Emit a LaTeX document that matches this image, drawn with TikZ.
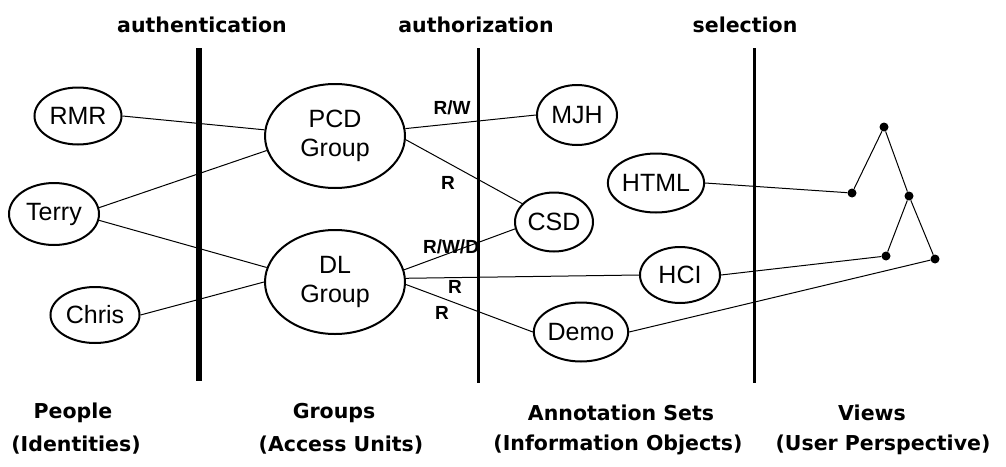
\documentclass[tikz,border=0pt]{standalone}
\usepackage{fontspec}
\setmainfont{Liberation Sans}
\newfontfamily\headfont{DejaVu Sans}
\usepackage{tikz}
\usetikzlibrary{shapes.geometric}

\begin{document}
\begin{tikzpicture}[x=1pt,y=-1pt,
ent/.style={draw,ellipse,line width=2pt,inner sep=0pt,font=\fontsize{25}{27}\selectfont},
small/.style={ent,minimum width=80pt,minimum height=58pt},
big/.style={ent,minimum width=140pt,minimum height=104pt,align=center,font=\fontsize{25}{29}\selectfont},
dot/.style={circle,fill,inner sep=0pt,minimum size=9pt},
link/.style={line width=1pt},
wall/.style={line width=#1},
lbl/.style={inner sep=0pt,font=\bfseries\fontsize{19}{20}\selectfont},
head/.style={inner sep=0pt,font=\headfont\bfseries\fontsize{20.5}{22}\selectfont}]
\useasboundingbox (0,0) rectangle (1006,466);
% barriers
\coordinate (b1t) at (199,48);
\coordinate (b1b) at (199,381);
\coordinate (b2t) at (478,48);
\coordinate (b2b) at (478,383);
\coordinate (b3t) at (754,48);
\coordinate (b3b) at (754,383);
\draw[wall=6pt] (b1t) -- (b1b);
\draw[wall=3pt] (b2t) -- (b2b);
\draw[wall=3pt] (b3t) -- (b3b);
\node[head] (auth) at (202,25) {authentication};
\node[head] (authz) at (476,25) {authorization};
\node[head] (sel) at (745,25) {selection};
% people
\node[small,minimum width=87pt,minimum height=57pt] (rmr) at (78,116) {RMR};
\node[small,minimum width=90pt,minimum height=62pt] (terry) at (54,214) {Terry};
\node[small,minimum width=89pt,minimum height=56pt] (chris) at (95,315) {Chris};
% groups
\node[big] (pcd) at (335,136) {PCD\\Group};
\node[big] (dl) at (335,282) {DL\\Group};
% annotation sets
\node[small,minimum height=60pt] (mjh) at (577,115) {MJH};
\node[small,minimum width=78pt,minimum height=59pt] (csd) at (554,222) {CSD};
\node[small,minimum width=78pt,minimum height=59pt] (demo) at (581,332) {Demo};
\node[small,minimum width=78pt,minimum height=59pt] (html) at (656,183) {HTML};
\node[small,minimum height=56pt] (hci) at (680,275) {HCI};
% views
\node[dot] (v1) at (884,127) {};
\node[dot] (v2) at (852,193) {};
\node[dot] (v3) at (909,196) {};
\node[dot] (v4) at (886,256) {};
\node[dot] (v5) at (935,259) {};
% links
\draw[link] (rmr.east) -- (pcd.175);
\draw[link] (terry.8) -- (pcd.192);
\draw[link] (terry.-8) -- (dl.168);
\draw[link] (chris.east) -- (dl.180);
\draw[link] (pcd.6) -- (mjh.west);
\draw[link] (pcd.-3) -- (csd.150);
\draw[link] (dl.10) -- (csd.190);
\draw[link] (dl.3) -- (hci.west);
\draw[link] (dl.-2) -- (demo.west);
\draw[link] (html.east) -- (v2) -- (v1) -- (v3) -- (v5);
\draw[link] (v3) -- (v4);
\draw[link] (hci.east) -- (v4);
\draw[link] (demo.east) -- (v5);
\node[lbl] (rw) at (452,108) {R/W};
\node[lbl] (r1) at (448,183) {R};
\node[lbl] (rwd) at (451,247) {R/W/D};
\node[lbl] (r2) at (455,287) {R};
\node[lbl] (r3) at (442,313) {R};
% captions
\node[head] (ppl) at (73,413) {People};
\node[head] (ppl2) at (76,445) {(Identities)};
\node[head] (grp) at (334,413) {Groups};
\node[head] (grp2) at (341,445) {(Access Units)};
\node[head] (ann) at (621,413) {Annotation Sets};
\node[head] (ann2) at (618,445) {(Information Objects)};
\node[head] (vw) at (872,413) {Views};
\node[head] (vw2) at (883,445) {(User Perspective)};
\end{tikzpicture}
\end{document}
